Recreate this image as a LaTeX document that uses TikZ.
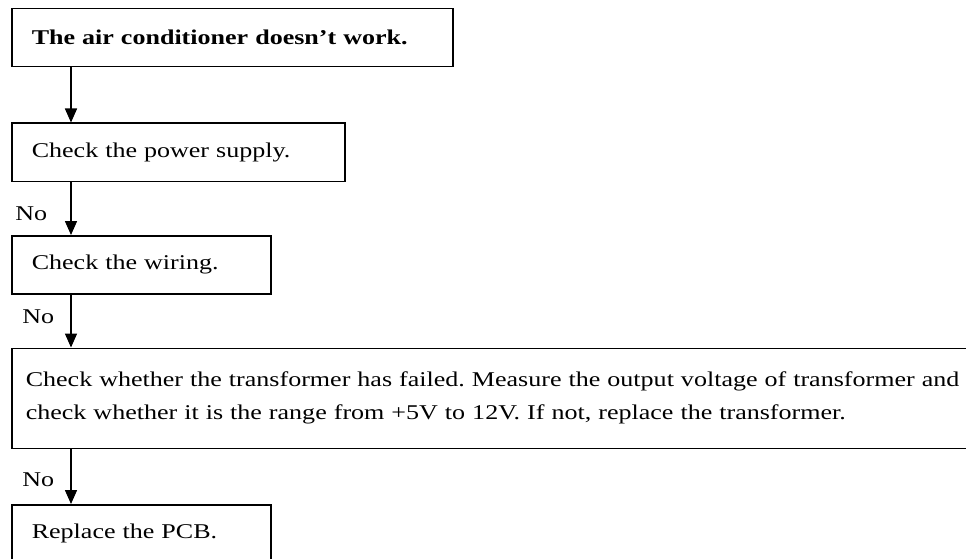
\documentclass[tikz,border=0pt]{standalone}
\usepackage{fontspec}
\setmainfont{Liberation Serif}[FakeStretch=1.24]
\usetikzlibrary{arrows.meta,positioning}
\frenchspacing

\begin{document}
\begin{tikzpicture}[
    x=1pt, y=1pt,
    >={Triangle[length=14pt,width=12pt]},
    chk/.style={draw, line width=1.5pt, minimum height=58pt, inner xsep=20pt,
                inner ysep=0pt, align=left,
                font=\fontsize{21}{33}\selectfont},
    ans/.style={inner sep=0pt, font=\fontsize{21}{25}\selectfont},
  ]

  \node[chk, text width=401pt, anchor=north west] (ac) at (11,-8)
    {\textbf{The air conditioner doesn’t work.}};
  \node[chk, text width=293pt, below=55pt of ac.south west, anchor=north west] (ps)
    {Check the power supply.};
  \node[chk, text width=219pt, below=53pt of ps.south west, anchor=north west] (wr)
    {Check the wiring.};
  \node[chk, text width=1012pt, inner xsep=14pt, minimum height=100pt,
        below=53pt of wr.south west, anchor=north west] (tf)
    {Check whether the transformer has failed. Measure the output voltage of transformer and\\
     check whether it is the range from +5V to 12V. If not, replace the transformer.};
  \node[chk, text width=219pt, below=55pt of tf.south west, anchor=north west] (pcb)
    {Replace the PCB.};

  \coordinate (ax) at (71,0);
  \draw[->, line width=1.5pt] (ac.south -| ax) -- (ps.north -| ax);
  \draw[->, line width=1.5pt] (ps.south -| ax) -- (wr.north -| ax)
    node[ans, midway, left=23pt, yshift=-5pt] (no1) {No};
  \draw[->, line width=1.5pt] (wr.south -| ax) -- (tf.north -| ax)
    node[ans, midway, left=16pt, yshift=4pt] (no2) {No};
  \draw[->, line width=1.5pt] (tf.south -| ax) -- (pcb.north -| ax)
    node[ans, midway, left=16pt, yshift=-3pt] (no3) {No};

  \pgfresetboundingbox
  \useasboundingbox (0,0) rectangle (966,-559);
\end{tikzpicture}
\end{document}
